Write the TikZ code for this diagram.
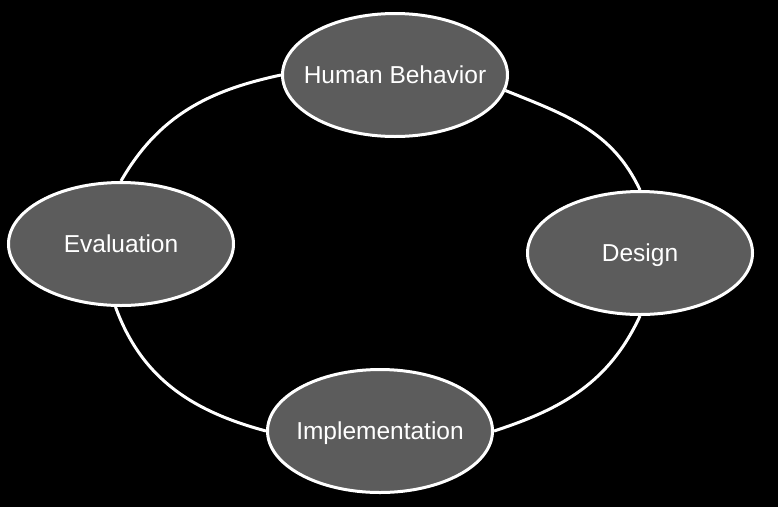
\documentclass[tikz,border=0pt]{standalone}
\usepackage{fontspec}
\setmainfont{Liberation Sans}
\usetikzlibrary{shapes.geometric}
\definecolor{stagegray}{RGB}{92,92,92}
\tikzset{stage/.style = {ellipse, draw=white, line width=3pt, fill=stagegray,
                         minimum width=225pt, minimum height=123pt, inner sep=0pt,
                         text=white, text height=16pt, text depth=0pt,
                         font=\fontsize{24.5}{29}\selectfont},
         cycleline/.style = {draw=white, line width=3pt}}

\begin{document}
\begin{tikzpicture}[x=1pt, y=1pt]
    \fill [black] (0, 0) rectangle (778, -507);

    \node [stage] (hb)   at (395, -75)  {\makebox[0pt]{Human Behavior}};
    \node [stage] (des)  at (640, -253) {\makebox[0pt]{Design}};
    \node [stage] (impl) at (380, -431) {\makebox[0pt]{Implementation}};
    \node [stage] (eval) at (121, -244) {\makebox[0pt]{Evaluation}};

    \foreach \a/\b/\o/\i in {hb.west/eval.north/192/60, hb.-8/des.north/-22/115,
                             des.south/impl.east/245/18, eval.265/impl.west/-70/165} {
      \draw [cycleline] (\a) to [out=\o, in=\i] (\b);
    };
\end{tikzpicture}
\end{document}
